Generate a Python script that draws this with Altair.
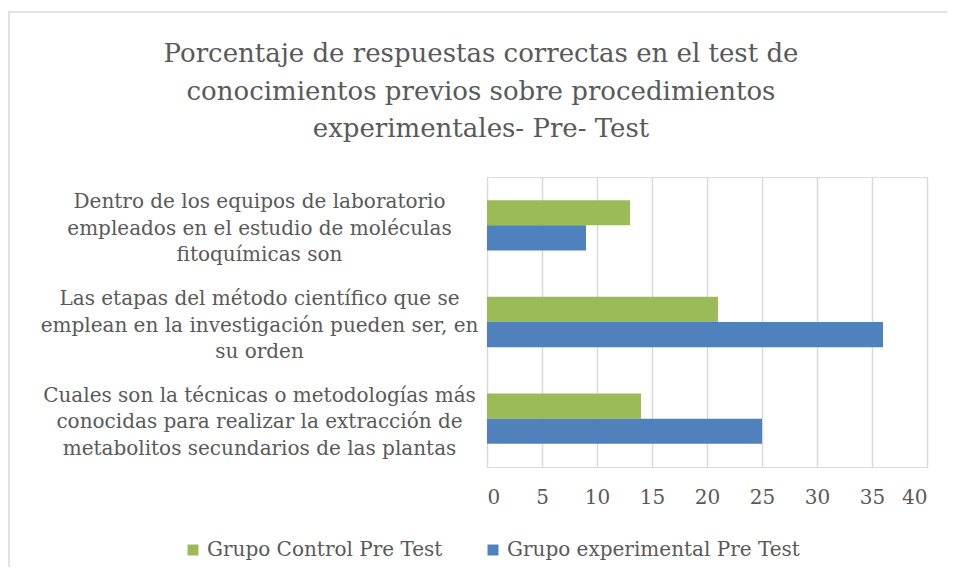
import altair as alt
import pandas as pd

categories = [
    "Dentro de los equipos de laboratorio|empleados en el estudio de moléculas|fitoquímicas son",
    "Las etapas del método científico que se|emplean en la investigación pueden ser, en|su orden",
    "Cuales son la técnicas o metodologías más|conocidas para realizar la extracción de|metabolitos secundarios de las plantas",
]
series = ["Grupo Control Pre Test", "Grupo experimental Pre Test"]
control = [13, 21, 14]
experimental = [9, 36, 25]
colors = ["#9BBB59", "#4F81BD"]
x_ticks = [0, 5, 10, 15, 20, 25, 30, 35, 40]

rows = []
for c, v1, v2 in zip(categories, control, experimental):
    rows.append({"cat": c, "serie": series[0], "valor": v1})
    rows.append({"cat": c, "serie": series[1], "valor": v2})
df = pd.DataFrame(rows)

FONT = "DejaVu Serif"
TXT = "#595959"

bars = alt.Chart(df).mark_bar().encode(
    x=alt.X("valor:Q", scale=alt.Scale(domain=[0, 40]),
            axis=alt.Axis(values=x_ticks, title=None, grid=True, gridColor="#D9D9D9",
                          gridWidth=1.5, domain=False, ticks=False, labelFontSize=20,
                          labelColor=TXT, labelFont=FONT, labelPadding=20)),
    y=alt.Y("cat:N", sort=categories,
            scale=alt.Scale(paddingInner=0.48, paddingOuter=0.24),
            axis=alt.Axis(title=None, domain=False, ticks=False, labelExpr="split(datum.label, '|')",
                          labelAlign="center", labelPadding=228, labelLimit=600, labelOffset=-23,
                          labelFontSize=20, labelLineHeight=26.5, labelColor=TXT, labelFont=FONT)),
    yOffset=alt.YOffset("serie:N", sort=series),
    color=alt.Color("serie:N", sort=series,
                    scale=alt.Scale(domain=series, range=colors),
                    legend=alt.Legend(title=None, orient="none", legendX=-304, legendY=363,
                                      direction="horizontal", symbolType="square", symbolSize=120,
                                      symbolStrokeWidth=0, labelFontSize=20, labelColor=TXT,
                                      labelFont=FONT, columnPadding=40, labelLimit=500)),
)

frame = alt.Chart(pd.DataFrame({"a": [0]})).mark_rect(
    filled=False, stroke="#D9D9D9", strokeWidth=1.5
).encode(x=alt.value(-478), x2=alt.value(530), y=alt.value(-165), y2=alt.value(430))

chart = alt.layer(frame, bars).properties(
    width=440,
    height=290,
    title=alt.Title(
        ["Porcentaje de respuestas correctas en el test de",
         "conocimientos previos sobre procedimientos",
         "experimentales- Pre- Test"],
        fontSize=26, font=FONT, color=TXT, fontWeight="normal", anchor="middle",
        dx=-226, offset=-131, lineHeight=37.5),
    padding={"left": 479, "top": 169, "right": 20, "bottom": 100},
    autosize=alt.AutoSizeParams(type="none"),
).configure_view(stroke=None).configure(background="white")

chart.save("out.html", embed_options={"renderer": "svg", "actions": False})
